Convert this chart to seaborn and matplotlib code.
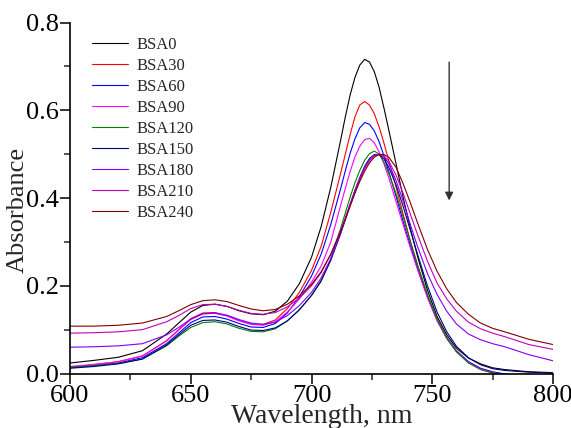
import numpy as np
import pandas as pd
import seaborn as sns
import matplotlib.pyplot as plt

# Wavelength grid (nm)
wavelength = [600, 610, 620, 630, 640, 645, 650, 655, 660, 665, 670, 675, 680, 685, 690,
              695, 700, 704, 708, 712, 714, 716, 718, 720, 722, 724, 726, 728, 730, 732,
              735, 738, 741, 744, 748, 752, 756, 760, 765, 770, 775, 780, 790, 800]

bsa0 = [0.024, 0.030, 0.037, 0.052, 0.090, 0.115, 0.140, 0.155, 0.158, 0.153, 0.143, 0.136, 0.134, 0.142, 0.165,
        0.205, 0.265, 0.335, 0.425, 0.530, 0.585, 0.635, 0.675, 0.703, 0.716, 0.710, 0.688, 0.652, 0.605, 0.555,
        0.478, 0.400, 0.330, 0.265, 0.190, 0.130, 0.088, 0.058, 0.035, 0.022, 0.013, 0.009, 0.004, 0.002]
bsa30 = [0.015, 0.020, 0.027, 0.040, 0.075, 0.100, 0.125, 0.138, 0.139, 0.132, 0.121, 0.113, 0.112, 0.122, 0.148,
         0.185, 0.235, 0.290, 0.368, 0.455, 0.500, 0.545, 0.585, 0.612, 0.620, 0.612, 0.592, 0.562, 0.525, 0.485,
         0.425, 0.362, 0.300, 0.245, 0.178, 0.122, 0.080, 0.050, 0.025, 0.010, 0.002, -0.003, -0.008, -0.010]
bsa60 = [0.013, 0.018, 0.024, 0.036, 0.068, 0.092, 0.116, 0.129, 0.130, 0.124, 0.114, 0.106, 0.105, 0.114, 0.138,
         0.175, 0.222, 0.272, 0.340, 0.420, 0.462, 0.502, 0.535, 0.560, 0.572, 0.568, 0.553, 0.528, 0.496, 0.460,
         0.404, 0.345, 0.290, 0.238, 0.175, 0.122, 0.082, 0.052, 0.027, 0.012, 0.004, -0.001, -0.006, -0.008]
bsa90 = [0.016, 0.021, 0.027, 0.040, 0.074, 0.099, 0.123, 0.136, 0.137, 0.131, 0.120, 0.112, 0.110, 0.118, 0.140,
         0.170, 0.208, 0.245, 0.300, 0.382, 0.422, 0.460, 0.494, 0.518, 0.533, 0.536, 0.526, 0.505, 0.478, 0.446,
         0.392, 0.338, 0.285, 0.235, 0.173, 0.120, 0.080, 0.050, 0.025, 0.010, 0.002, -0.003, -0.008, -0.010]
bsa120 = [0.014, 0.018, 0.023, 0.033, 0.063, 0.085, 0.105, 0.116, 0.118, 0.113, 0.103, 0.096, 0.095, 0.102, 0.120,
          0.146, 0.178, 0.210, 0.262, 0.330, 0.366, 0.402, 0.435, 0.463, 0.486, 0.501, 0.507, 0.500, 0.482, 0.456,
          0.410, 0.356, 0.300, 0.246, 0.180, 0.124, 0.081, 0.050, 0.024, 0.009, 0.001, -0.004, -0.009, -0.011]
bsa150 = [0.012, 0.016, 0.022, 0.033, 0.065, 0.088, 0.110, 0.121, 0.122, 0.117, 0.107, 0.099, 0.098, 0.104, 0.120,
          0.145, 0.178, 0.212, 0.258, 0.318, 0.352, 0.386, 0.418, 0.447, 0.472, 0.490, 0.499, 0.499, 0.489, 0.470,
          0.430, 0.380, 0.325, 0.270, 0.200, 0.140, 0.095, 0.062, 0.036, 0.020, 0.011, 0.007, 0.003, 0.001]
bsa180 = [0.060, 0.061, 0.063, 0.068, 0.088, 0.105, 0.124, 0.136, 0.138, 0.133, 0.123, 0.115, 0.112, 0.117, 0.132,
          0.155, 0.185, 0.218, 0.262, 0.318, 0.350, 0.382, 0.413, 0.442, 0.470, 0.487, 0.497, 0.500, 0.494, 0.478,
          0.440, 0.392, 0.338, 0.288, 0.228, 0.180, 0.142, 0.113, 0.090, 0.077, 0.068, 0.061, 0.043, 0.029]
bsa210 = [0.092, 0.093, 0.095, 0.100, 0.118, 0.132, 0.148, 0.157, 0.158, 0.153, 0.144, 0.137, 0.135, 0.139, 0.152,
          0.172, 0.200, 0.230, 0.272, 0.325, 0.355, 0.386, 0.416, 0.444, 0.467, 0.485, 0.496, 0.500, 0.496, 0.484,
          0.452, 0.410, 0.362, 0.315, 0.256, 0.206, 0.170, 0.142, 0.117, 0.102, 0.092, 0.084, 0.066, 0.055]
bsa240 = [0.108, 0.108, 0.110, 0.115, 0.130, 0.143, 0.157, 0.166, 0.168, 0.164, 0.155, 0.147, 0.143, 0.146, 0.158,
          0.177, 0.203, 0.232, 0.272, 0.323, 0.352, 0.382, 0.411, 0.438, 0.461, 0.480, 0.493, 0.499, 0.499, 0.493,
          0.470, 0.432, 0.388, 0.342, 0.283, 0.233, 0.193, 0.162, 0.135, 0.115, 0.103, 0.095, 0.078, 0.066]

labels = ['BSA0', 'BSA30', 'BSA60', 'BSA90', 'BSA120', 'BSA150', 'BSA180', 'BSA210', 'BSA240']
series = [bsa0, bsa30, bsa60, bsa90, bsa120, bsa150, bsa180, bsa210, bsa240]
colors = ['#000000', '#ff0000', '#0000ff', '#ff00ff', '#008000', '#000080', '#8000ff', '#c000c0', '#800000']

df = pd.concat([pd.DataFrame({'Wavelength': wavelength, 'Absorbance': vals, 'Sample': lab})
                for lab, vals in zip(labels, series)], ignore_index=True)

sns.set_style('ticks')
plt.rcParams['font.family'] = ['Liberation Serif', 'DejaVu Serif']

fig = plt.figure(figsize=(5.71, 4.28), dpi=100)
ax = fig.add_axes([0.1226, 0.1273, 0.8459, 0.8201])

sns.lineplot(data=df, x='Wavelength', y='Absorbance', hue='Sample', hue_order=labels,
             palette=dict(zip(labels, colors)), linewidth=0.8, ax=ax, sort=False)

ax.set_xlim(600, 800)
ax.set_ylim(0, 0.8)
ax.set_xticks([600, 650, 700, 750, 800])
ax.set_xticks([625, 675, 725, 775], minor=True)
ax.set_yticks([0.0, 0.2, 0.4, 0.6, 0.8])
ax.set_yticks([0.1, 0.3, 0.5, 0.7], minor=True)
ax.yaxis.set_major_formatter(plt.FormatStrFormatter('%.1f'))
ax.tick_params(which='major', direction='out', length=7, width=1.1, labelsize=19, pad=1, colors='black')
ax.tick_params(which='minor', direction='out', length=4, width=1.1)
for s in ['top', 'right']:
    ax.spines[s].set_visible(False)
for s in ['left', 'bottom']:
    ax.spines[s].set_linewidth(1.2)
    ax.spines[s].set_color('black')

ax.set_xlabel('Wavelength, nm', fontsize=20)
ax.set_ylabel('Absorbance', fontsize=19)
ax.xaxis.set_label_coords(0.522, -0.088)
ax.yaxis.set_label_coords(-0.085, 0.466)

# downward arrow marking decreasing absorbance
ax.annotate('', xy=(757, 0.388), xytext=(757, 0.716),
            arrowprops=dict(arrowstyle='-|>', color='#333333', lw=1.0, mutation_scale=12))

leg = ax.legend(loc='upper left', bbox_to_anchor=(0.045, 0.96), frameon=False,
                fontsize=12, handlelength=2.2, handletextpad=0.5, labelspacing=0.3,
                borderpad=0, borderaxespad=0)
for line in leg.get_lines():
    line.set_linewidth(0.8)

fig.savefig('out.png', dpi=100)
